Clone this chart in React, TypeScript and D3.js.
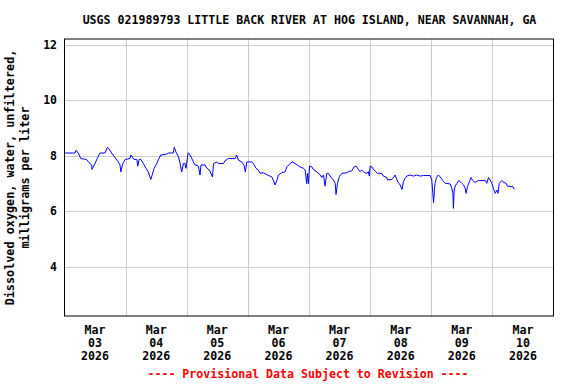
import React from "react";
import * as d3 from "d3";

const title = "USGS 021989793 LITTLE BACK RIVER AT HOG ISLAND, NEAR SAVANNAH, GA";
const yTitleLines = ["Dissolved oxygen, water, unfiltered,", "milligrams per liter"];
const footer = "---- Provisional Data Subject to Revision ----";

// hours since 2026-03-03 00:00
const hours = [
  0.2, 4.1, 4.5, 5.4, 6.4, 8.7, 9.4, 10.7, 10.8, 11.3, 12.6, 13.9, 15.9, 16.8, 17.9, 18.5, 19.8, 21.1, 21.8, 22.1,
  22.9, 23.8, 25.7, 26.1, 27.3, 28.4, 28.8, 29.3, 30.0, 31.0, 32.0, 32.9, 33.9, 34.4, 35.2, 36.2, 36.9, 37.8, 40.1, 40.8,
  42.7, 43.1, 43.8, 44.7, 45.4, 46.0, 46.7, 47.3, 47.7, 48.4, 48.6, 49.3, 50.0, 50.6, 51.3, 52.6, 53.2, 53.6, 55.2, 55.9,
  56.9, 58.1, 58.5, 59.8, 60.4, 62.4, 63.0, 64.3, 67.0, 67.6, 68.3, 69.6, 70.5, 71.0, 71.6, 73.5, 74.2, 75.2, 76.1, 76.8,
  78.1, 79.7, 81.4, 82.0, 82.7, 83.4, 84.0, 85.3, 86.6, 87.3, 88.6, 89.5, 90.5, 91.4, 92.5, 93.8, 94.5, 95.1, 95.4, 95.8,
  96.2, 97.1, 97.7, 99.1, 100.4, 101.0, 101.7, 102.3, 103.0, 103.6, 104.3, 105.0, 105.6, 106.3, 106.6, 107.2, 107.9, 108.9, 110.8, 111.5,
  112.8, 113.7, 114.5, 115.4, 116.1, 116.7, 117.4, 118.0, 118.7, 119.3, 119.7, 120.0, 120.7, 121.3, 122.9, 124.6, 125.2, 126.6, 126.8, 128.5,
  129.2, 129.8, 130.5, 131.1, 131.8, 132.5, 133.1, 133.7, 134.4, 135.7, 137.0, 138.3, 139.6, 140.9, 143.6, 144.2, 144.6, 144.9, 145.3, 145.5,
  145.9, 146.4, 146.8, 147.5, 148.2, 148.8, 149.5, 151.4, 152.1, 152.5, 152.7, 153.0, 153.4, 154.1, 154.7, 155.4, 156.0, 156.7, 157.3, 157.7,
  158.2, 159.0, 159.6, 160.3, 161.2, 162.5, 165.2, 165.8, 166.5, 167.1, 167.8, 168.4, 169.1, 169.8, 170.2, 170.7, 171.7, 172.6, 173.4, 173.9,
  176.1, 176.6,
];

const oxygen = [
  8.1, 8.1, 8.2, 8.1, 7.9, 7.87, 7.78, 7.67, 7.51, 7.6, 7.85, 8.1, 8.1, 8.3, 8.2, 8.1, 7.94, 7.78, 7.67, 7.42,
  7.72, 7.87, 7.9, 8.03, 7.87, 7.87, 7.63, 7.87, 7.87, 7.72, 7.55, 7.42, 7.15, 7.31, 7.55, 7.72, 7.87, 8.03, 8.06, 8.1,
  8.1, 8.3, 8.13, 7.98, 7.72, 7.42, 7.72, 7.72, 7.55, 8.03, 8.11, 8.03, 7.9, 7.78, 7.67, 7.63, 7.31, 7.67, 7.67, 7.55,
  7.49, 7.24, 7.72, 7.78, 7.72, 7.72, 7.82, 7.9, 7.9, 8.03, 7.84, 7.78, 7.67, 7.42, 7.78, 7.78, 7.72, 7.55, 7.49, 7.37,
  7.39, 7.31, 7.24, 7.12, 6.95, 7.12, 7.31, 7.39, 7.42, 7.6, 7.72, 7.78, 7.72, 7.67, 7.6, 7.55, 7.49, 7.0, 7.37, 7.0,
  7.63, 7.6, 7.51, 7.42, 7.31, 7.22, 7.31, 6.91, 7.37, 7.37, 7.27, 7.19, 7.13, 7.01, 6.61, 7.01, 7.25, 7.37, 7.39, 7.43,
  7.46, 7.6, 7.63, 7.51, 7.43, 7.49, 7.43, 7.39, 7.37, 7.43, 7.27, 7.63, 7.6, 7.51, 7.37, 7.37, 7.27, 7.22, 7.13, 7.15,
  7.22, 7.31, 7.15, 7.03, 6.95, 6.79, 7.07, 7.19, 7.27, 7.31, 7.27, 7.31, 7.27, 7.29, 7.29, 7.13, 6.67, 6.31, 6.83, 7.01,
  7.16, 7.27, 7.31, 7.24, 7.16, 7.07, 7.01, 6.99, 6.83, 6.65, 6.11, 6.77, 6.91, 7.01, 7.11, 7.07, 7.01, 6.95, 6.83, 6.65,
  6.89, 7.07, 7.22, 7.11, 7.04, 7.11, 7.11, 7.01, 7.22, 7.13, 7.01, 6.83, 6.65, 6.77, 6.65, 7.01, 7.11, 7.04, 7.01, 6.91,
  6.89, 6.79,
];

const dayLabels = ["03", "04", "05", "06", "07", "08", "09", "10"];
const monthLabel = "Mar";
const yearLabel = "2026";
const yTicks = [4, 6, 8, 10, 12];

const W = 576;
const H = 384;
const left = 64.5;
const right = 553.5;
const top = 39;
const bottom = 316;
const FONT = "'DejaVu Sans Mono', 'Liberation Mono', monospace";

export default function App() {
  const x = d3.scaleLinear().domain([0, 192]).range([left, right]);
  const y = d3.scaleLinear().domain([2.24, 12.2]).range([bottom, top]);
  const pts: [number, number][] = hours.map((h, i) => [h, oxygen[i]]);
  const line = d3
    .line<[number, number]>()
    .x((d) => x(d[0]))
    .y((d) => y(d[1]))
    .curve(d3.curveLinear);
  const dayGrid = d3.range(1, 8).map((d) => d * 24);

  return (
    <svg
      width={W}
      height={H}
      style={{ position: "absolute", left: 0, top: 0, background: "#fff" }}
      fontFamily={FONT}
      fontWeight="bold"
    >
      <rect x={0} y={0} width={W} height={H} fill="#fff" />
      <text x={309.5} y={24} textAnchor="middle" fontSize={11.6} fill="#000">
        {title}
      </text>
      {yTicks.map((t) => (
        <g key={t}>
          <line x1={left} x2={right} y1={Math.round(y(t)) + 0.5} y2={Math.round(y(t)) + 0.5} stroke="#cccccc" strokeWidth={1} />
          <text x={57} y={y(t) + 4} textAnchor="end" fontSize={11.5} fill="#000">
            {t}
          </text>
        </g>
      ))}
      {dayGrid.map((h) => (
        <line key={h} x1={Math.round(x(h)) + 0.5} x2={Math.round(x(h)) + 0.5} y1={top} y2={bottom} stroke="#cccccc" strokeWidth={1} />
      ))}
      <path d={line(pts) || ""} fill="none" stroke="#0000ff" strokeWidth={1} />
      <rect x={left} y={top} width={right - left} height={bottom - top} fill="none" stroke="#000" strokeWidth={1} />
      {dayLabels.map((dl, i) => {
        const cx = x(i * 24 + 12);
        return (
          <text key={dl} textAnchor="middle" fontSize={11.6} fill="#000">
            <tspan x={cx} y={334}>{monthLabel}</tspan>
            <tspan x={cx} y={347}>{dl}</tspan>
            <tspan x={cx} y={360}>{yearLabel}</tspan>
          </text>
        );
      })}
      <g transform={`translate(0, ${(top + bottom) / 2}) rotate(-90)`}>
        <text x={0} y={14} textAnchor="middle" fontSize={11.8} fill="#000">
          {yTitleLines[0]}
        </text>
        <text x={0} y={29} textAnchor="middle" fontSize={11.8} fill="#000">
          {yTitleLines[1]}
        </text>
      </g>
      <text x={308} y={378} textAnchor="middle" fontSize={11.6} fill="#ff0000">
        {footer}
      </text>
    </svg>
  );
}
